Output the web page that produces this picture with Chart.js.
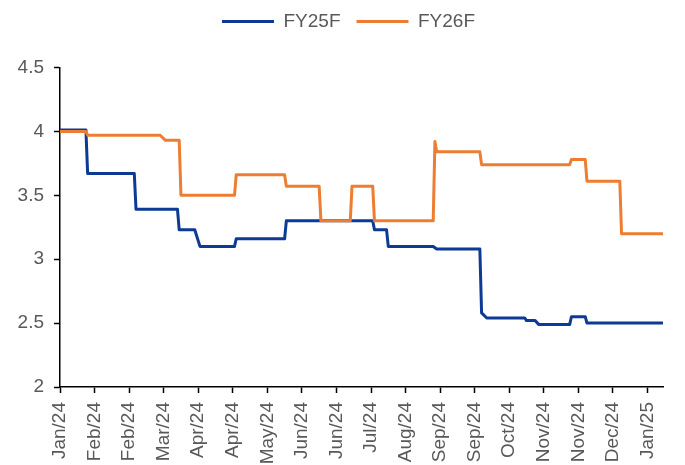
<!DOCTYPE html>
<html>
<head>
<meta charset="utf-8">
<script src="https://cdn.jsdelivr.net/npm/chart.js@4/dist/chart.umd.min.js"></script>
<style>
  html, body { margin: 0; padding: 0; background: #ffffff; }
  #wrap { width: 685px; height: 465px; position: relative; }
</style>
</head>
<body>
<div id="wrap"><canvas id="chart"></canvas></div>
<script>
// Axis labels: one label every 20 trading days along the x axis
const tickLabels = ['Jan/24', 'Feb/24', 'Feb/24', 'Mar/24', 'Apr/24', 'Apr/24', 'May/24', 'Jun/24', 'Jun/24',
                    'Jul/24', 'Aug/24', 'Sep/24', 'Sep/24', 'Oct/24', 'Nov/24', 'Nov/24', 'Dec/24', 'Jan/25'];
const labelStep = 20;
const lastDay = 349;

const yTicks = [2, 2.5, 3, 3.5, 4, 4.5];

// FY25F consensus: day index where the estimate changes, and the estimate
const fy25Days   = [0, 15, 16, 43, 44, 68, 69, 78, 81, 101, 102, 130, 131, 181, 182, 189, 190, 216, 218, 243,
                    244, 247, 269, 270, 275, 277, 295, 296, 304, 305, 349];
const fy25Values = [4.01, 4.01, 3.67, 3.67, 3.39, 3.39, 3.23, 3.23, 3.10, 3.10, 3.16, 3.16, 3.30, 3.30, 3.23, 3.23,
                    3.10, 3.10, 3.08, 3.08, 2.58, 2.54, 2.54, 2.52, 2.52, 2.49, 2.49, 2.55, 2.55, 2.50, 2.50];

// FY26F consensus
const fy26Days   = [0, 15, 16, 58, 61, 69, 70, 101, 102, 130, 131, 150, 151, 168, 169, 181, 182, 216, 217, 218,
                    243, 244, 295, 296, 304, 305, 324, 325, 349];
const fy26Values = [4.00, 4.00, 3.97, 3.97, 3.93, 3.93, 3.50, 3.50, 3.66, 3.66, 3.57, 3.57, 3.30, 3.30, 3.57, 3.57,
                    3.30, 3.30, 3.92, 3.84, 3.84, 3.74, 3.74, 3.78, 3.78, 3.61, 3.61, 3.20, 3.20];

const toPoints = (days, values) => days.map((d, i) => ({ x: d, y: values[i] }));

const TEXT = '#595959';
const FONT = 'Liberation Sans, Arial, sans-serif';
const PAD_R = 22;
const LEGEND_SHIFT = 17;

// nudge the legend a little to the right of the canvas centre
const legendShift = {
  id: 'legendShift',
  afterLayout(chart) {
    if (chart.legend) {
      chart.legend.left += LEGEND_SHIFT;
      chart.legend.right += LEGEND_SHIFT;
    }
  }
};

new Chart(document.getElementById('chart'), {
  type: 'line',
  plugins: [legendShift],
  data: {
    datasets: [
      {
        label: 'FY25F',
        data: toPoints(fy25Days, fy25Values),
        borderColor: '#0D3A94',
        backgroundColor: '#0D3A94',
        borderWidth: 3,
        pointRadius: 0,
        tension: 0,
        borderJoinStyle: 'round',
        borderCapStyle: 'round',
        order: 1
      },
      {
        label: 'FY26F',
        data: toPoints(fy26Days, fy26Values),
        borderColor: '#ED7D31',
        backgroundColor: '#ED7D31',
        borderWidth: 3,
        pointRadius: 0,
        tension: 0,
        borderJoinStyle: 'round',
        borderCapStyle: 'round',
        order: 0
      }
    ]
  },
  options: {
    responsive: true,
    maintainAspectRatio: false,
    animation: false,
    layout: { padding: { left: 0, right: PAD_R, top: -4, bottom: 0 } },
    plugins: {
      tooltip: { enabled: false },
      legend: {
        position: 'top',
        labels: {
          usePointStyle: true,
          pointStyle: 'line',
          pointStyleWidth: 52,
          padding: 16,
          color: TEXT,
          font: { family: FONT, size: 19 },
          sort: (a, b) => a.datasetIndex - b.datasetIndex
        }
      },
      // empty spacer between the legend and the plot
      title: {
        display: true,
        text: '',
        weight: 500,
        font: { size: 10, lineHeight: 1 },
        padding: { top: 0, bottom: 16.5 }
      }
    },
    scales: {
      x: {
        type: 'linear',
        min: 0,
        max: lastDay,
        afterFit: s => { s.height = 78; },
        afterBuildTicks: s => { s.ticks = tickLabels.map((_, i) => ({ value: i * labelStep })); },
        grid: { display: true, drawOnChartArea: false, drawTicks: true, tickLength: 6, tickColor: '#000000', tickWidth: 1.5 },
        border: { display: true, color: '#000000', width: 1.5 },
        ticks: {
          autoSkip: false,
          minRotation: 90,
          maxRotation: 90,
          padding: 9,
          color: TEXT,
          font: { family: FONT, size: 19 },
          callback: (v, i) => tickLabels[i]
        }
      },
      y: {
        min: 2,
        max: 4.5,
        afterFit: s => { s.width = 60; },
        afterBuildTicks: s => { s.ticks = yTicks.map(v => ({ value: v })); },
        grid: { display: true, drawOnChartArea: false, drawTicks: true, tickLength: 6, tickColor: '#000000', tickWidth: 1.5 },
        border: { display: true, color: '#000000', width: 1.5 },
        ticks: {
          padding: 10,
          color: TEXT,
          font: { family: FONT, size: 19 },
          callback: v => String(v)
        }
      }
    }
  }
});
</script>
</body>
</html>
